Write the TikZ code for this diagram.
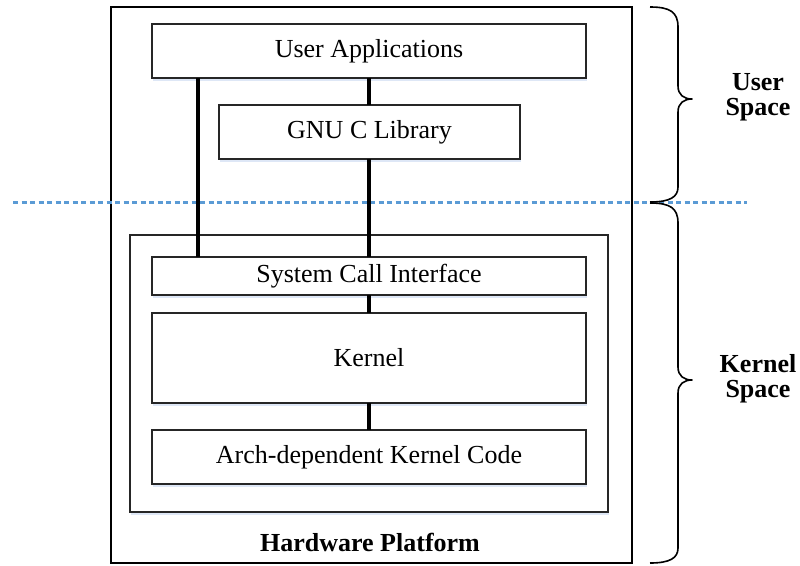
\documentclass[tikz,border=0pt]{standalone}
\usepackage{fontspec}
\setmainfont{Liberation Serif}
\usetikzlibrary{shadows}
\definecolor{dashblue}{RGB}{91,155,213}
\definecolor{shadowblue}{RGB}{200,215,240}
\begin{document}
\begin{tikzpicture}[x=1pt,y=-1pt,
  every node/.style={inner sep=0pt,outer sep=0pt},
  layerbox/.style={draw=black!85,line width=2pt,fill=white,
    drop shadow={shadow xshift=1pt,shadow yshift=-2.5pt,fill=shadowblue,opacity=0.6},
    font=\fontsize{26}{30}\selectfont,anchor=center},
  outerbox/.style={draw=black,line width=2.6pt,fill=white},
  conn/.style={line width=3.6pt,black},
  sepline/.style={dashblue,line width=2.4pt,dash pattern=on 5pt off 3.5pt},
  bracepath/.style={line width=1.6pt,black,line join=round},
  sidelabel/.style={font=\fontsize{26}{25}\selectfont\bfseries,align=center}]
\useasboundingbox (0,0) rectangle (800,565);
% outer hardware box
\node[outerbox,minimum width=521pt,minimum height=556pt] (outer) at (371.5,285) {};
\node[font=\fontsize{26}{30}\selectfont\bfseries] (hw) at (370,542) {Hardware Platform};
% separator
\coordinate (sepL) at (13,202.5);
\coordinate (sepR) at (747,202.5);
\draw[sepline] (sepL) -- (sepR);
% kernel space box
\node[layerbox,minimum width=478pt,minimum height=277pt] (kspace) at (369,373.5) {};
% layers
\node[layerbox,minimum width=434pt,minimum height=54pt] (ua) at (369,51) {User Applications};
\node[layerbox,minimum width=301pt,minimum height=54pt] (gnu) at (369.5,132) {GNU C Library};
\node[layerbox,minimum width=434pt,minimum height=38pt] (sci) at (369,276) {System Call Interface};
\node[layerbox,minimum width=434pt,minimum height=90pt] (kern) at (369,358) {Kernel};
\node[layerbox,minimum width=434pt,minimum height=54pt] (arch) at (369,457) {Arch-dependent Kernel Code};
% connectors
\coordinate (cl) at (198,0);
\coordinate (cr) at (369,0);
\draw[conn] (ua.south -| cl) -- (sci.north -| cl);
\draw[conn] (ua.south -| cr) -- (gnu.north -| cr);
\draw[conn] (gnu.south -| cr) -- (sci.north -| cr);
\draw[conn] (sci.south -| cr) -- (kern.north -| cr);
\draw[conn] (kern.south -| cr) -- (arch.north -| cr);
% braces
\draw[bracepath] (650,7) .. controls (670,7) and (678,12) .. (678,27) -- (678,86)
  .. controls (678,95) and (684,99) .. (692,99)
  .. controls (684,99) and (678,103) .. (678,112) -- (678,187)
  .. controls (678,197) and (670,202) .. (650,202);
\draw[bracepath] (650,203) .. controls (670,203) and (678,208) .. (678,223) -- (678,367)
  .. controls (678,376) and (684,380) .. (692,380)
  .. controls (684,380) and (678,384) .. (678,393) -- (678,548)
  .. controls (678,558) and (670,563) .. (650,563);
\node[sidelabel] (us) at (758,97) {User\\Space};
\node[sidelabel] (ks) at (758,379) {Kernel\\Space};
\end{tikzpicture}
\end{document}
